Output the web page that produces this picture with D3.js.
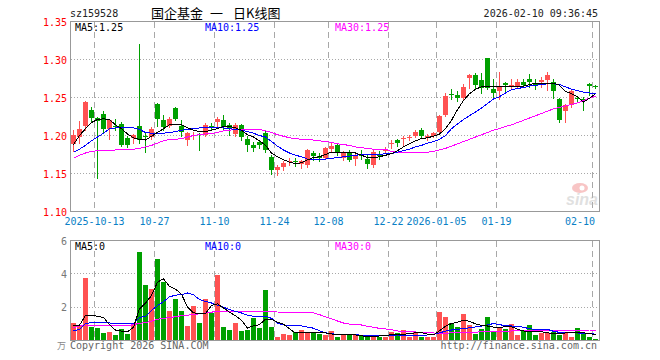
<!DOCTYPE html>
<html>
<head>
<meta charset="utf-8">
<script src="https://cdn.jsdelivr.net/npm/d3@7"></script>
<style>
 body { margin: 0; background: #fff; }
 svg text { font-family: "DejaVu Sans Mono", monospace; font-size: 10px; }
 svg text.cjk { font-family: "Noto Sans CJK SC", sans-serif; font-size: 13px; }
</style>
</head>
<body>
<div id="chart"></div>
<script>
// x axis: label positions are trading-day indexes
const tickIdx = [4, 14, 24, 34, 43, 53, 61, 71, 87];
const tickLabels = ["2025-10-13", "10-27", "11-10", "11-24", "12-08", "12-22", "2026-01-05", "01-19", "02-10"];
const priceTicks = [1.10, 1.15, 1.20, 1.25, 1.30, 1.35];
const volTicks = [2, 4, 6];
const maNames = ["MA5", "MA10", "MA30"];
const maLast = ["1.25", "1.25", "1.25"];
const volMaLast = ["0", "0", "0"];

const open = [1.189,1.198,1.212,1.234,1.223,1.228,1.209,1.213,1.215,1.197,1.197,1.213,1.199,1.198,1.242,1.221,1.213,1.236,1.213,1.194,
 1.200,1.202,1.201,1.213,1.218,1.221,1.214,1.202,1.214,1.196,1.188,1.192,1.203,1.172,1.154,1.158,1.165,1.166,1.163,1.161,
 1.177,1.173,1.170,1.182,1.187,1.170,1.178,1.169,1.175,1.169,1.161,1.175,1.180,1.189,1.194,1.196,1.197,1.200,1.207,1.197,
 1.200,1.204,1.227,1.254,1.253,1.249,1.276,1.280,1.273,1.302,1.261,1.258,1.269,1.265,1.265,1.271,1.275,1.269,1.270,1.273,
 1.270,1.248,1.232,1.240,1.250,1.248,1.268,1.265];
const high = [1.207,1.219,1.245,1.237,1.224,1.232,1.221,1.222,1.218,1.200,1.202,1.321,1.203,1.211,1.243,1.227,1.224,1.238,1.220,1.204,
 1.205,1.203,1.216,1.216,1.224,1.227,1.216,1.216,1.215,1.199,1.192,1.194,1.207,1.174,1.161,1.167,1.170,1.171,1.168,1.182,
 1.179,1.177,1.185,1.190,1.189,1.179,1.181,1.177,1.181,1.175,1.181,1.180,1.185,1.194,1.196,1.199,1.201,1.207,1.210,1.202,
 1.205,1.227,1.256,1.261,1.258,1.268,1.281,1.282,1.282,1.302,1.275,1.283,1.271,1.274,1.275,1.274,1.281,1.274,1.277,1.283,
 1.275,1.249,1.241,1.260,1.252,1.251,1.269,1.266];
const low = [1.180,1.190,1.207,1.219,1.144,1.205,1.196,1.207,1.186,1.185,1.190,1.190,1.178,1.196,1.212,1.207,1.211,1.220,1.199,1.188,
 1.195,1.181,1.199,1.209,1.213,1.207,1.201,1.200,1.194,1.179,1.179,1.183,1.178,1.150,1.148,1.155,1.161,1.160,1.157,1.159,
 1.168,1.167,1.169,1.180,1.175,1.168,1.166,1.161,1.169,1.157,1.158,1.169,1.177,1.183,1.186,1.186,1.194,1.198,1.198,1.194,
 1.198,1.203,1.226,1.248,1.246,1.248,1.262,1.262,1.256,1.261,1.250,1.248,1.256,1.262,1.264,1.264,1.264,1.261,1.264,1.260,
 1.249,1.218,1.218,1.238,1.245,1.234,1.253,1.262];
const close = [1.201,1.209,1.244,1.223,1.219,1.208,1.220,1.211,1.188,1.187,1.201,1.194,1.198,1.209,1.222,1.211,1.222,1.222,1.205,1.203,
 1.201,1.201,1.214,1.212,1.222,1.211,1.210,1.214,1.198,1.188,1.183,1.188,1.181,1.154,1.158,1.164,1.166,1.165,1.166,1.181,
 1.173,1.170,1.183,1.186,1.177,1.178,1.168,1.175,1.174,1.163,1.178,1.174,1.181,1.190,1.190,1.197,1.198,1.204,1.200,1.200,
 1.203,1.226,1.252,1.253,1.250,1.264,1.279,1.267,1.262,1.262,1.256,1.264,1.266,1.266,1.271,1.266,1.270,1.265,1.273,1.280,
 1.259,1.221,1.240,1.259,1.248,1.246,1.265,1.264];

const ma5 = [1.188,1.200,1.209,1.217,1.221,1.222,1.221,1.214,1.209,1.202,1.197,1.195,1.194,1.199,1.204,1.209,1.214,1.215,1.214,1.210,
 1.207,1.205,1.205,1.207,1.209,1.212,1.212,1.210,1.207,1.201,1.198,1.193,1.187,1.177,1.172,1.168,1.165,1.163,1.164,1.168,
 1.171,1.172,1.175,1.178,1.177,1.177,1.177,1.177,1.174,1.171,1.171,1.172,1.174,1.176,1.180,1.185,1.189,1.193,1.196,1.197,
 1.199,1.202,1.209,1.220,1.234,1.246,1.255,1.261,1.264,1.265,1.265,1.265,1.265,1.265,1.265,1.265,1.267,1.269,1.269,1.269,
 1.269,1.266,1.258,1.255,1.251,1.244,1.249,1.255];
const ma10 = [1.178,1.182,1.187,1.193,1.198,1.203,1.209,1.210,1.210,1.210,1.210,1.208,1.204,1.203,1.203,1.203,1.204,1.205,1.207,1.208,
 1.209,1.210,1.210,1.210,1.210,1.210,1.209,1.208,1.207,1.205,1.203,1.200,1.198,1.192,1.186,1.181,1.177,1.174,1.172,1.169,
 1.169,1.169,1.169,1.170,1.171,1.172,1.173,1.174,1.175,1.175,1.175,1.175,1.176,1.176,1.178,1.180,1.182,1.185,1.187,1.190,
 1.192,1.195,1.200,1.209,1.215,1.221,1.226,1.231,1.236,1.242,1.248,1.251,1.256,1.260,1.262,1.263,1.265,1.266,1.267,1.268,
 1.268,1.267,1.264,1.261,1.259,1.257,1.256,1.255];
const ma30 = [1.170,1.174,1.177,1.179,1.180,1.180,1.180,1.181,1.181,1.182,1.182,1.183,1.185,1.187,1.190,1.193,1.195,1.195,1.196,1.198,
 1.200,1.201,1.202,1.202,1.204,1.206,1.207,1.208,1.208,1.208,1.208,1.208,1.206,1.204,1.201,1.199,1.197,1.196,1.195,1.195,
 1.194,1.193,1.192,1.191,1.189,1.188,1.187,1.185,1.184,1.183,1.182,1.182,1.182,1.179,1.178,1.178,1.178,1.178,1.178,1.178,
 1.179,1.181,1.183,1.186,1.189,1.192,1.195,1.198,1.201,1.204,1.207,1.209,1.212,1.214,1.217,1.220,1.223,1.226,1.229,1.232,
 1.235,1.237,1.239,1.241,1.243,1.246,1.249,1.252];

// volume, in 万
const vol = [1.05,0.95,3.74,0.81,0.75,0.48,0.51,0.30,0.67,0.42,1.05,5.33,3.31,3.09,4.91,3.49,1.76,2.50,1.76,0.89,
 2.08,1.07,2.50,1.66,3.96,0.83,0.63,1.07,0.59,0.63,1.37,0.77,3.01,0.83,0.24,0.42,0.36,0.50,0.63,0.44,
 0.50,0.42,0.36,0.57,0.18,0.30,0.38,0.32,0.30,0.28,0.18,0.22,0.22,0.53,0.46,0.65,0.24,0.51,0.24,0.24,
 0.18,1.70,1.43,1.05,0.83,1.58,0.93,0.40,0.69,1.41,0.51,0.73,0.69,0.99,0.30,0.57,0.93,0.34,0.48,0.48,
 0.50,0.30,0.50,0.24,0.77,0.42,0.18,0.12];
const volMa5 = [0.89,0.92,1.50,1.49,1.46,1.38,0.95,0.62,0.56,0.53,0.80,1.90,2.25,2.70,3.50,3.70,3.25,3.08,2.78,2.00,
 1.66,1.62,1.62,2.10,2.20,1.95,1.70,1.48,1.22,0.75,0.88,0.95,1.29,1.29,1.09,0.98,0.70,0.45,0.46,0.49,
 0.50,0.50,0.45,0.39,0.38,0.38,0.38,0.33,0.28,0.24,0.26,0.27,0.28,0.36,0.38,0.38,0.40,0.46,0.48,0.38,
 0.34,0.58,0.85,1.02,1.09,1.22,1.15,1.00,0.90,0.87,0.80,0.78,0.83,0.83,0.68,0.57,0.53,0.53,0.53,0.46,
 0.40,0.40,0.45,0.50,0.50,0.46,0.42,0.34];
const volMa10 = [0.59,0.65,1.02,1.07,1.09,1.08,1.05,1.04,1.03,1.03,1.03,1.37,1.45,1.80,2.10,2.33,2.62,2.72,2.75,2.85,
 2.75,2.45,2.35,2.25,2.12,2.00,1.85,1.75,1.65,1.52,1.45,1.45,1.46,1.33,1.05,0.93,0.89,0.89,0.88,0.80,
 0.74,0.58,0.47,0.40,0.37,0.36,0.35,0.34,0.32,0.31,0.30,0.29,0.28,0.31,0.33,0.33,0.32,0.32,0.32,0.33,
 0.36,0.46,0.56,0.63,0.67,0.72,0.76,0.81,0.86,0.93,1.02,0.95,0.89,0.87,0.85,0.80,0.70,0.67,0.67,0.67,
 0.55,0.49,0.47,0.46,0.45,0.43,0.41,0.38];
const volMa30 = [0.75,0.88,0.93,0.93,0.93,0.92,0.90,0.89,0.89,0.89,0.95,1.03,1.08,1.16,1.27,1.33,1.37,1.43,1.49,1.52,
 1.56,1.60,1.65,1.70,1.76,1.76,1.76,1.76,1.76,1.76,1.76,1.76,1.73,1.72,1.71,1.70,1.69,1.68,1.68,1.68,
 1.66,1.55,1.42,1.30,1.17,1.05,0.98,0.95,0.93,0.85,0.79,0.73,0.69,0.65,0.57,0.55,0.53,0.51,0.49,0.47,
 0.45,0.44,0.43,0.46,0.47,0.48,0.49,0.50,0.52,0.53,0.54,0.55,0.56,0.57,0.58,0.58,0.59,0.59,0.60,0.60,
 0.60,0.61,0.61,0.62,0.62,0.62,0.63,0.63];

const red = "#ff5252";
const green = "#00a000";
const gridColor = "#a8a8a8";
const maColors = ["#000", "#0000ff", "#ff00ff"];

const svg = d3
 .select("#chart")
 .append("svg")
 .attr("width", 660)
 .attr("height", 360);

const idx = d3.range(close.length);
const x = d3.scaleBand().domain(idx).range([71, 598]).paddingInner(1 / 6);
const mid = (i) => x(i) + 2.5;
const y = d3.scaleLinear().domain([1.1, 1.35]).range([211.5, 21.5]);
const yv = d3.scaleLinear().domain([0, 6]).range([340.5, 240.5]);

// header
svg.append("text").attr("x", 70).attr("y", 17).attr("fill", "#222").text("sz159528");
svg.append("text").attr("class", "cjk").attr("x", 151).attr("y", 18).text("国企基金");
svg.append("text").attr("class", "cjk").attr("x", 210).attr("y", 18).text("一");
svg.append("text").attr("class", "cjk").attr("x", 233).attr("y", 18).text("日K线图");
svg
 .append("text")
 .attr("x", 598)
 .attr("y", 17)
 .attr("text-anchor", "end")
 .attr("fill", "#222")
 .text("2026-02-10 09:36:45");

// grid lines
const grid = svg.append("g").attr("stroke", gridColor).attr("shape-rendering", "crispEdges");
grid
 .selectAll(".hp")
 .data(priceTicks.slice(1, -1))
 .enter()
 .append("line")
 .attr("x1", 71)
 .attr("x2", 599)
 .attr("y1", (d) => y(d))
 .attr("y2", (d) => y(d))
 .attr("stroke-dasharray", "1,2");
grid
 .selectAll(".hv")
 .data(volTicks.slice(0, -1))
 .enter()
 .append("line")
 .attr("x1", 71)
 .attr("x2", 599)
 .attr("y1", (d) => yv(d))
 .attr("y2", (d) => yv(d))
 .attr("stroke-dasharray", "1,2");
tickIdx.forEach((i) => {
 [[22, 211], [241, 340]].forEach(([a, b]) => {
  grid
   .append("line")
   .attr("x1", x(i) - 0.5)
   .attr("x2", x(i) - 0.5)
   .attr("y1", a)
   .attr("y2", b)
   .attr("stroke-dasharray", "6,4");
 });
});

// frames
svg
 .append("rect")
 .attr("x", 70.5)
 .attr("y", 21.5)
 .attr("width", 529)
 .attr("height", 190)
 .attr("fill", "none")
 .attr("stroke", "#999");
svg
 .append("rect")
 .attr("x", 70.5)
 .attr("y", 240.5)
 .attr("width", 529)
 .attr("height", 100)
 .attr("fill", "none")
 .attr("stroke", "#999");

// candles
const candles = svg
 .append("g")
 .attr("shape-rendering", "crispEdges")
 .selectAll("g")
 .data(idx)
 .enter()
 .append("g");
candles
 .append("line")
 .attr("x1", (i) => mid(i))
 .attr("x2", (i) => mid(i))
 .attr("y1", (i) => Math.round(y(high[i])))
 .attr("y2", (i) => Math.round(y(low[i])) + 1)
 .attr("stroke", (i) => (close[i] >= open[i] ? red : green));
candles
 .append("rect")
 .attr("x", (i) => x(i))
 .attr("width", x.bandwidth())
 .attr("y", (i) => Math.round(y(Math.max(open[i], close[i]))))
 .attr("height", (i) =>
  Math.max(1, Math.round(y(Math.min(open[i], close[i]))) - Math.round(y(Math.max(open[i], close[i]))))
 )
 .attr("fill", (i) => (close[i] >= open[i] ? red : green));

// volume bars
svg
 .append("g")
 .attr("shape-rendering", "crispEdges")
 .selectAll("rect")
 .data(idx)
 .enter()
 .append("rect")
 .attr("x", (i) => x(i))
 .attr("width", x.bandwidth())
 .attr("y", (i) => Math.round(yv(vol[i])))
 .attr("height", (i) => 340 - Math.round(yv(vol[i])))
 .attr("fill", (i) => (close[i] >= open[i] ? red : green));

// moving averages
const lineP = (arr) => d3.line().x((d, i) => mid(i)).y((d) => y(d))(arr);
const lineV = (arr) => d3.line().x((d, i) => mid(i)).y((d) => yv(d))(arr);
[
 [ma30, maColors[2], lineP],
 [ma10, maColors[1], lineP],
 [ma5, maColors[0], lineP],
 [volMa30, maColors[2], lineV],
 [volMa10, maColors[1], lineV],
 [volMa5, maColors[0], lineV],
].forEach(([arr, c, fn]) => {
 svg
  .append("path")
  .attr("d", fn(arr))
  .attr("fill", "none")
  .attr("stroke", c)
  .attr("stroke-width", 1)
  .attr("shape-rendering", "crispEdges");
});

// legends
const legendX = [75, 205, 335];
maNames.forEach((n, k) => {
 svg.append("text").attr("x", legendX[k]).attr("y", 31).attr("fill", maColors[k]).text(n + ":" + maLast[k]);
 svg.append("text").attr("x", legendX[k]).attr("y", 250).attr("fill", maColors[k]).text(n + ":" + volMaLast[k]);
});

// y axis labels
svg
 .selectAll(".py")
 .data(priceTicks)
 .enter()
 .append("text")
 .attr("x", 67)
 .attr("y", (d) => y(d) + 4)
 .attr("text-anchor", "end")
 .attr("fill", "#f00")
 .text((d) => d.toFixed(2));
svg
 .selectAll(".vy")
 .data(volTicks)
 .enter()
 .append("text")
 .attr("x", 67)
 .attr("y", (d) => yv(d) + 4)
 .attr("text-anchor", "end")
 .attr("fill", "#777")
 .text((d) => d);
svg
 .append("text")
 .attr("class", "cjk")
 .attr("x", 57)
 .attr("y", 349)
 .attr("fill", "#888")
 .style("font-size", "9px")
 .text("万");

// x axis labels
tickIdx.forEach((i, k) => {
 const w = tickLabels[k].length * 6;
 const cx = Math.min(x(i) - 0.5, 595 - w / 2);
 svg
  .append("text")
  .attr("x", cx)
  .attr("y", 225)
  .attr("text-anchor", "middle")
  .attr("fill", "#0a7fc6")
  .text(tickLabels[k]);
});

// footer
svg.append("text").attr("x", 70).attr("y", 349).attr("fill", "#666").text("Copyright 2026 SINA.COM");
svg
 .append("text")
 .attr("x", 597)
 .attr("y", 349)
 .attr("text-anchor", "end")
 .attr("fill", "#666")
 .text("http://finance.sina.com.cn");

// sina watermark
const wm = svg.append("g").attr("opacity", 0.45);
wm.append("ellipse").attr("cx", 580).attr("cy", 188).attr("rx", 8).attr("ry", 5).attr("fill", "#f08080");
wm.append("circle").attr("cx", 582).attr("cy", 188).attr("r", 2.5).attr("fill", "#fff");
wm
 .append("text")
 .attr("x", 566)
 .attr("y", 205)
 .style("font-family", "Liberation Sans, sans-serif")
 .style("font-size", "16px")
 .style("font-weight", "bold")
 .style("font-style", "italic")
 .attr("fill", "#bbb")
 .text("sina");
</script>
</body>
</html>
